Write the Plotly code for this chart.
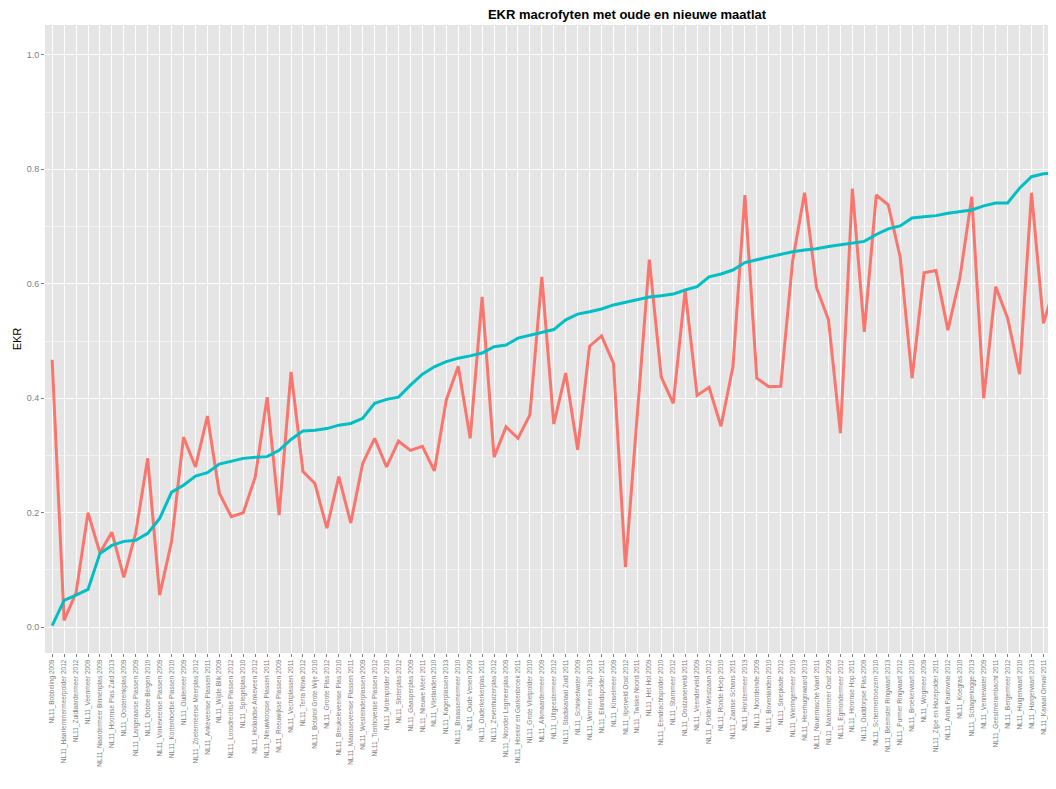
import plotly.graph_objects as go

# Category labels (water body + year), as far as legible in the reference
categories = [
    "NL11_Bobbeling 2009", "NL11_Haarlemmermeerpolder 2012", "NL11_Zuidlaardermeer 2012",
    "NL11_Veenmeer 2009", "NL11_Naardermeer Binnenplas 2009", "NL11_Hoornse Plas Zuid 2013",
    "NL11_Oosterenkplas 2009", "NL11_Langeraarse Plassen 2009", "NL11_Dobbe Bergen 2010",
    "NL11_Vinkeveense Plassen 2009", "NL11_Kortenhoefse Plassen 2010", "NL11_Oudemeer 2009",
    "NL11_Zoetermeerse Meerplas 2012", "NL11_Ankeveense Plassen 2011", "NL11_Wijde Blik 2009",
    "NL11_Loosdrechtse Plassen 2012", "NL11_Spiegelplas 2010", "NL11_Hollandse Ankeveen 2012",
    "NL11_Nieuwkoopse Plassen 2011", "NL11_Reeuwijkse Plassen 2009", "NL11_Vechtplassen 2011",
    "NL11_Terra Nova 2012", "NL11_Botshol Grote Wije 2010", "NL11_Groote Plas 2012",
    "NL11_Breukeleveense Plas 2010", "NL11_Maarsseveense Plassen 2011", "NL11_Westeinderplassen 2009",
    "NL11_Tienhovense Plassen 2012", "NL11_Molenpolder 2010", "NL11_Sloterplas 2012",
    "NL11_Gaasperplas 2009", "NL11_Nieuwe Meer 2011", "NL11_Vlietlanden 2010",
    "NL11_Kagerplassen 2013", "NL11_Braassemermeer 2010", "NL11_Oude Venen 2009",
    "NL11_Ouderkerkerplas 2011", "NL11_Zevenhuizerplas 2012", "NL11_Noorder Legmeerplas 2009",
    "NL11_Hoeker en Garkenbroek 2011", "NL11_Grote Vlietpolder 2010", "NL11_Alkmaardermeer 2009",
    "NL11_Uitgeestermeer 2012", "NL11_Stadskanaal Zuid 2011", "NL11_Schinkelwater 2009",
    "NL11_Wormer en Jisp 2013", "NL11_Eilandspolder 2011", "NL11_Kinselmeer 2009",
    "NL11_Ilperveld Oost 2012", "NL11_Twiske Noord 2011", "NL11_Het Hol 2009",
    "NL11_Eendrachtspolder 2010", "NL11_Starnmeer 2012", "NL11_Oostzanerveld 2011",
    "NL11_Veenderveld 2009", "NL11_Polder Westzaan 2012", "NL11_Ronde Hoep 2010",
    "NL11_Zaanse Schans 2011", "NL11_Horstermeer 2013", "NL11_Noordeinde 2009",
    "NL11_Bovenlanden 2010", "NL11_Sniepkade 2012", "NL11_Wieringermeer 2010",
    "NL11_Heerhugowaard 2013", "NL11_Nauernasche Vaart 2011", "NL11_Markermeer Oost 2009",
    "NL11_Egmondermeer 2012", "NL11_Hoornse Hop 2011", "NL11_Ouddorpse Plas 2009",
    "NL11_Schermerboezem 2010", "NL11_Beemster Ringvaart 2013", "NL11_Purmer Ringvaart 2012",
    "NL11_Broekervaart 2010", "NL11_Wogmeer 2009", "NL11_Zijpe en Hazepolder 2011",
    "NL11_Anna Paulowna 2012", "NL11_Koegras 2010", "NL11_Schagerkogge 2013",
    "NL11_Vennewater 2009", "NL11_Geestmerambacht 2011", "NL11_Bergermeer 2012",
    "NL11_Huigenvaart 2010", "NL11_Hargervaart 2013", "NL11_Kanaal Omval 2011",
    "NL11_Noord Hollands Kanaal 2012",
]

# EKR with old assessment system (red)
ekr_oud = [
    0.467, 0.012, 0.060, 0.200, 0.130, 0.166, 0.087, 0.165, 0.295, 0.056,
    0.150, 0.332, 0.280, 0.369, 0.234, 0.193, 0.200, 0.262, 0.402, 0.196,
    0.446, 0.272, 0.251, 0.173, 0.263, 0.182, 0.286, 0.330, 0.280, 0.325,
    0.309, 0.316, 0.273, 0.397, 0.456, 0.330, 0.577, 0.297, 0.350, 0.330,
    0.371, 0.612, 0.355, 0.444, 0.310, 0.491, 0.509, 0.461, 0.105, 0.372,
    0.642, 0.437, 0.391, 0.589, 0.405, 0.419, 0.351, 0.455, 0.755, 0.435,
    0.420, 0.421, 0.640, 0.759, 0.593, 0.537, 0.339, 0.766, 0.516, 0.755,
    0.738, 0.647, 0.435, 0.619, 0.623, 0.519, 0.610, 0.752, 0.400, 0.595,
    0.540, 0.442, 0.759, 0.531, 0.600,
]

# EKR with new assessment system (teal, sorted)
ekr_nieuw = [
    0.003, 0.047, 0.056, 0.066, 0.129, 0.143, 0.150, 0.152, 0.164, 0.190,
    0.236, 0.248, 0.264, 0.270, 0.285, 0.290, 0.295, 0.297, 0.298, 0.309,
    0.328, 0.343, 0.344, 0.347, 0.353, 0.356, 0.365, 0.391, 0.398, 0.402,
    0.423, 0.442, 0.455, 0.464, 0.470, 0.474, 0.479, 0.490, 0.493, 0.505,
    0.510, 0.516, 0.520, 0.537, 0.547, 0.551, 0.556, 0.563, 0.568, 0.572,
    0.577, 0.579, 0.582, 0.589, 0.595, 0.612, 0.617, 0.624, 0.637, 0.642,
    0.647, 0.651, 0.656, 0.659, 0.661, 0.665, 0.668, 0.672, 0.674, 0.686,
    0.696, 0.701, 0.715, 0.717, 0.719, 0.723, 0.726, 0.729, 0.736, 0.741,
    0.741, 0.767, 0.787, 0.792, 0.794,
]

y_ticks = [0.0, 0.2, 0.4, 0.6, 0.8, 1.0]

# The page body has an 8 px margin, so the figure is placed at (8, 8)
W, H = 1048, 781

fig = go.Figure()
fig.add_trace(go.Scatter(x=categories, y=ekr_oud, mode="lines", name="oud",
                         line=dict(color="#F8766D", width=3)))
fig.add_trace(go.Scatter(x=categories, y=ekr_nieuw, mode="lines", name="nieuw",
                         line=dict(color="#00BFC4", width=3)))

fig.update_layout(
    width=W, height=H,
    margin=dict(l=37, r=0, t=17, b=136, autoexpand=False),
    paper_bgcolor="white",
    plot_bgcolor="#E5E5E5",
    showlegend=False,
    font=dict(family="Liberation Sans, Arial, sans-serif"),
    title=dict(text="<b>EKR macrofyten met oude en nieuwe maatlat</b>",
               x=(627 - 8) / W, xref="container", xanchor="center",
               y=1 - 6 / H, yref="container", yanchor="middle",
               font=dict(size=13, color="black")),
)
fig.update_xaxes(
    type="category",
    range=[-0.6, len(categories) - 1 + 0.05],
    showgrid=True, gridcolor="white", gridwidth=1,
    tickangle=-90, tickfont=dict(size=6.5, color="#7F7F7F"),
    ticks="outside", ticklen=3, tickcolor="#7F7F7F",
    showline=False, zeroline=False, automargin=False,
)
fig.update_yaxes(
    range=[-0.045, 1.052],
    tickvals=y_ticks, tickformat=".1f",
    showgrid=True, gridcolor="white", gridwidth=1.2,
    minor=dict(dtick=0.1, tick0=0, showgrid=True, gridcolor="#F2F2F2", gridwidth=0.6),
    tickfont=dict(size=9, color="#7F7F7F"),
    ticks="outside", ticklen=3, tickcolor="#7F7F7F",
    zeroline=False, showline=False, automargin=False,
    title=dict(text="EKR", font=dict(size=11, color="black"), standoff=2),
)

fig.write_html("out.html")
